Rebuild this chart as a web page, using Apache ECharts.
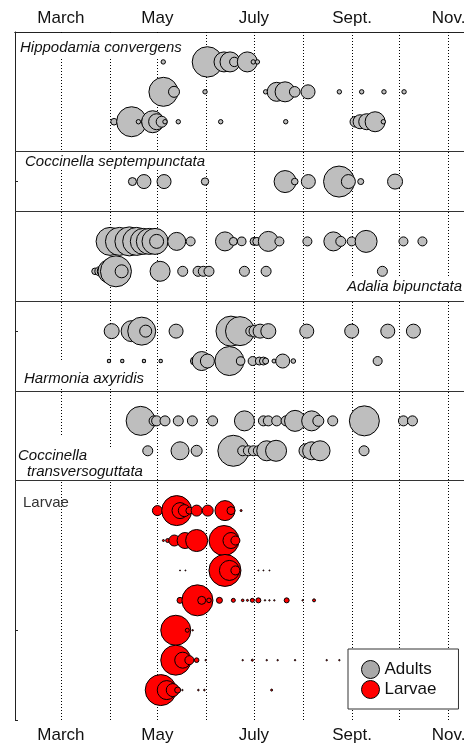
<!DOCTYPE html>
<html>
<head>
<meta charset="utf-8">
<script src="https://cdn.jsdelivr.net/npm/echarts@6/dist/echarts.min.js"></script>
<style>
  html, body { margin: 0; padding: 0; background: #fff; }
  #chart { width: 464px; height: 744px; }
</style>
</head>
<body>
<div id="chart"></div>
<script>
// x axis is day of year; dotted guides at the first of each month
var monthStarts = [60, 91, 121, 152, 182, 213, 244, 274, 305];
var tickDays = [60, 121, 182, 244, 305];
var tickNames = ['March', 'May', 'July', 'Sept.', 'Nov.'];
var panelBreaks = [4, 6, 9, 12, 15];

// each row: [day of year, bubble radius]
var hippo1 = [[124.7,2.2],[152.6,15.2],[163.1,10],[166.9,10],[169.6,4.7],[177.8,10],[181.6,2.2],[184.2,2.2]];
var hippo2 = [[124.8,14.5],[131.5,5.5],[151.1,2.2],[189.4,2.2],[196.4,9.5],[201.7,10],[207.8,5.3],[216.2,7],[236,2.2],[250.1,2.2],[264.2,2.2],[276.9,2.2]];
var hippo3 = [[93.6,3.3],[104.7,15],[109,2.2],[113.4,4],[118,11],[120.5,8],[123.7,5.5],[125.8,2.2],[134.2,2.2],[161,2.2],[202.1,2.2],[246.1,5.3],[249.1,7],[253.3,8],[258.6,10],[263.8,2.2]];
var septem = [[105.2,4],[112.5,7],[125.2,7],[151.1,3.7],[201.7,11],[207.8,3.3],[216.4,7],[235.8,15.5],[241.7,7],[249.5,3],[271.2,7.5]];
var adalia1 = [[91.1,14],[97,14],[103.3,14.5],[107.9,14],[112.1,13],[115.9,13],[119.5,13],[120.5,7],[133.2,9],[142,4.5],[163.7,9.5],[169,4],[174.3,4.3],[182.1,4],[183.8,4],[191.1,10],[198.1,4.5],[215.8,4.5],[232.2,9.5],[236.9,5],[243.8,4.5],[252.9,11],[276.5,4.5],[288.5,4.5]];
var adalia2 = [[81.6,3.3],[84.3,4.5],[86.8,6],[91,12],[94.8,15.5],[98.4,6.5],[122.7,10],[137,5],[146.7,5],[150,5],[153.6,5],[176,5],[189.7,5],[263.2,5]];
var harmo1 = [[92.1,7.5],[104.7,10.5],[111.1,14],[113.6,6],[132.8,7],[167.5,15],[173.2,14.5],[180,5],[182.7,6],[185.9,7],[191.1,7.5],[215.4,7],[243.8,7],[266.6,7],[282.8,7]];
var harmo2 = [[90.4,1.7],[98.8,1.7],[112.5,1.7],[123.1,1.7],[144.4,4],[149,9.5],[152.6,7],[166.5,14.5],[173.6,4.3],[181.2,4.5],[185.4,4],[188,4],[189.4,3],[194.7,2],[200.2,7],[206.9,2.3],[260.2,4.5]];
var trans1 = [[110.4,14.5],[118.9,5],[120.5,5],[125.8,5],[134.2,5],[143.1,5],[155.9,5],[176,10],[188,5],[191.1,5],[196.4,5],[202.3,5],[208,10.5],[218.5,10],[222.7,5.5],[231.8,5],[251.8,15],[276.5,5],[282.2,5]];
var trans2 = [[114.9,5],[135.3,9],[145.8,5.5],[169,15.5],[174.9,5],[178.5,5],[181.7,5],[184.8,5],[190.1,10],[196,10.5],[214.9,7],[218.5,9],[223.8,10],[251.6,5]];

var larva1 = [[121,5],[133.2,15],[135.3,8],[138,6],[141.2,3.5],[145.8,5.5],[152.8,5.5],[163.7,10],[167.5,4],[173.9,1]];
var larva2 = [[124.8,1],[127.5,2],[131.7,5.5],[138.5,8],[145.8,11],[163.1,15],[167.5,8],[170.3,4.5]];
var larva3 = [[135.3,0.5],[138.7,0.5],[163.7,16],[166.5,10],[170.3,4.5],[184.8,0.5],[188,0.5],[191.8,0.5]];
var larva4 = [[135.3,3],[146.3,15.5],[149,4],[153.6,2.3],[160.2,3],[169,2],[174.9,1.3],[177.9,1],[181,2],[184.8,2.5],[189,0.7],[191.8,0.7],[194.9,0.7],[202.7,2.5],[212.8,0.7],[220,1.5]];
var larva5 = [[132.6,15],[139.9,2],[143.3,0.7]];
var larva6 = [[132.6,15],[137,8],[141.2,4.5],[145.8,2.3],[151.5,0.7],[174.9,0.7],[181,1],[190.1,0.7],[197,0.7],[208,0.7],[228,0.7],[236,0.7]];
var larva7 = [[123.1,15.5],[126.9,9.5],[130.7,6.5],[133.8,3],[136.8,0.7],[146.9,0.8],[150.7,0.8],[193.2,1]];

// row position on the y axis for each row
var adultRows = [[1, hippo1], [2, hippo2], [3, hippo3], [5, septem], [7, adalia1], [8, adalia2],
                 [10, harmo1], [11, harmo2], [13, trans1], [14, trans2]];
var larvaRows = [[16, larva1], [17, larva2], [18, larva3], [19, larva4], [20, larva5], [21, larva6], [22, larva7]];

function flatten(rows) {
  var out = [];
  rows.forEach(function(r) {
    r[1].forEach(function(p) { out.push([p[0], r[0], p[1]]); });
  });
  return out;
}

var chart = echarts.init(document.getElementById('chart'), null, { renderer: 'canvas' });

var font = '"Liberation Sans", Arial, Helvetica, sans-serif';
var ink = '#111';

function xAxisCfg(pos, margin) {
  return {
    type: 'value', position: pos, min: 31, max: 335,
    axisLine: { show: true, lineStyle: { color: '#222', width: 1 } },
    axisTick: { show: false },
    splitLine: { show: false },
    axisLabel: {
      customValues: tickDays,
      margin: margin,
      color: ink, fontSize: 17, fontFamily: font,
      formatter: function(v) { return tickNames[tickDays.indexOf(v)]; }
    }
  };
}

function labelBox(x, y, w, h) {
  return { type: 'rect', z: 2, silent: true, shape: { x: x, y: y, width: w, height: h }, style: { fill: '#fff' } };
}
function label(text, x, y, italic, align) {
  return {
    type: 'text', z: 2, silent: true, x: x, y: y,
    style: {
      text: text, fill: italic ? ink : '#333', fontSize: 15, fontFamily: font,
      fontStyle: italic ? 'italic' : 'normal', align: align || 'left', verticalAlign: 'middle'
    }
  };
}

chart.setOption({
  animation: false,
  backgroundColor: '#fff',
  grid: { left: 15, right: -32, top: 32, bottom: 24, outerBoundsMode: 'none' },
  xAxis: [xAxisCfg('bottom', 7), xAxisCfg('top', 5)],
  yAxis: {
    type: 'value', inverse: true, min: 0, max: 23, interval: 5,
    axisLine: { show: true, lineStyle: { color: '#222', width: 1 } },
    axisTick: { show: true, inside: true, length: 3, lineStyle: { color: '#222' } },
    axisLabel: { show: false },
    splitLine: { show: false }
  },
  legend: {
    orient: 'vertical', left: 348, top: 649,
    padding: [11, 22, 10, 13], itemGap: 1, itemWidth: 18, itemHeight: 18,
    backgroundColor: '#fff', borderColor: '#333', borderWidth: 1, borderRadius: 0,
    selectedMode: false, z: 10,
    textStyle: { fontSize: 17, color: ink, fontFamily: font },
    data: [
      { name: 'Adults', icon: 'circle', itemStyle: { color: '#a9a9a9', borderColor: '#000', borderWidth: 1 } },
      { name: 'Larvae', icon: 'circle', itemStyle: { color: '#ff0000', borderColor: '#000', borderWidth: 1 } }
    ]
  },
  graphic: [
    labelBox(16, 33, 171, 24),
    labelBox(16, 152, 194, 16),
    labelBox(340, 278, 124, 22),
    labelBox(16, 362, 132, 25),
    labelBox(16, 435, 78, 30),
    labelBox(16, 448, 132, 32),
    label('Hippodamia convergens', 20, 47.5, true),
    label('Coccinella septempunctata', 25, 161.7, true),
    label('Adalia bipunctata', 462, 286.7, true, 'right'),
    label('Harmonia axyridis', 24, 379, true),
    label('Coccinella', 18, 455.7, true),
    label('transversoguttata', 27, 471.7, true),
    label('Larvae', 23, 503.3, false)
  ],
  series: [
    {
      type: 'scatter', data: [], silent: true,
      markLine: {
        z: 1, silent: true, symbol: 'none', animation: false,
        label: { show: false }, emphasis: { disabled: true },
        lineStyle: { color: '#000', type: [1, 2], width: 1 },
        data: monthStarts.map(function(d) { return { xAxis: d }; })
      }
    },
    {
      type: 'scatter', data: [], silent: true,
      markLine: {
        z: 1, silent: true, symbol: 'none', animation: false,
        label: { show: false }, emphasis: { disabled: true },
        lineStyle: { color: '#333', type: 'solid', width: 1 },
        data: panelBreaks.map(function(v) { return { yAxis: v }; })
      }
    },
    {
      name: 'Adults', type: 'scatter', z: 3,
      data: flatten(adultRows),
      symbol: 'circle',
      symbolSize: function(v) { return v[2] * 2; },
      itemStyle: { color: '#bebebe', borderColor: '#000', borderWidth: 1, opacity: 1 },
      emphasis: { disabled: true }
    },
    {
      name: 'Larvae', type: 'scatter', z: 3,
      data: flatten(larvaRows),
      symbol: 'circle',
      symbolSize: function(v) { return v[2] * 2; },
      itemStyle: { color: '#ff0000', borderColor: '#000', borderWidth: 1, opacity: 1 },
      emphasis: { disabled: true }
    }
  ]
});

window.addEventListener('resize', function() { chart.resize(); });
</script>
</body>
</html>
